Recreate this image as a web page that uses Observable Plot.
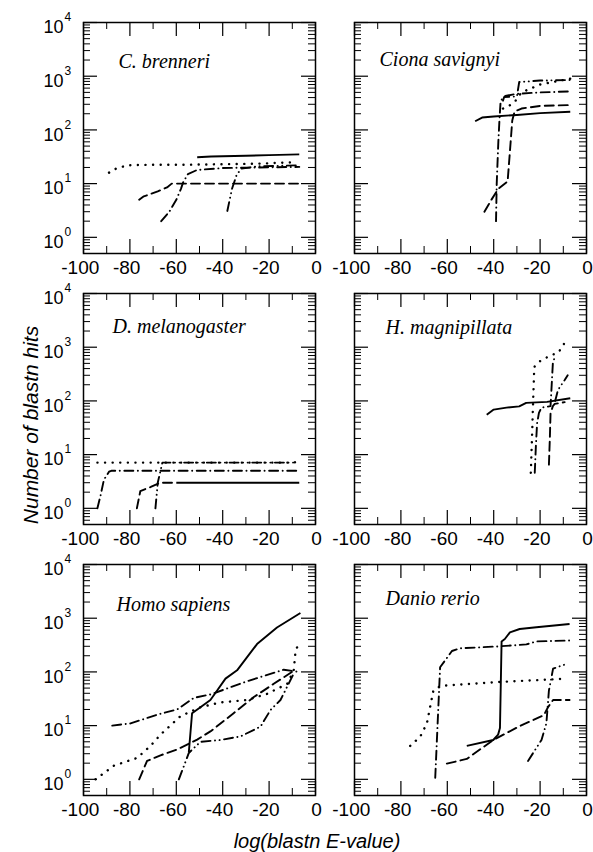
<!DOCTYPE html>
<html><head><meta charset="utf-8">
<script src="https://cdn.jsdelivr.net/npm/d3@7"></script>
<script src="https://cdn.jsdelivr.net/npm/@observablehq/plot@0.6"></script>
<style>
body{margin:0;background:#fff;}
#chart{position:relative;width:593px;height:852px;overflow:hidden;background:#fff;font-family:"Liberation Sans",Arial,sans-serif;}
#chart svg{position:absolute;background:none;overflow:visible;max-width:none;}
.lab{position:absolute;font-family:"Liberation Sans",Arial,sans-serif;font-style:italic;font-size:20px;line-height:20px;white-space:nowrap;color:#000;}
</style></head><body><div id="chart"></div><script>
// ---- tick values / labels ----
const yTicks = [1, 10, 100, 1000, 10000];
const yExp = ["0", "1", "2", "3", "4"];
const xMajor = [-100, -80, -60, -40, -20, 0];
const xMinor = [-90, -70, -50, -30, -10];
const xLabelsNeg = [-100, -80, -60, -40, -20];

// ---- data: [log(E-value), hits] ----
// C. brenneri
const cbSolid = [[-51,31],[-45,32],[-30,33],[-20,34],[-7,35]];
const cbDashed = [[-76,5],[-74,5.8],[-72,6.2],[-68,7.2],[-64,8.5],[-62,10],[-7,10]];
const cbDotted = [[-89,16],[-86,19],[-81,22],[-70,22.5],[-55,22.5],[-40,23],[-25,23.5],[-8,25]];
const cbDashDot = [[-66.5,2],[-63,3],[-60,5],[-58,8],[-57,10.7],[-55,15],[-51,18],[-40,19.5],[-25,20],[-7,20.5]];
const cbDashDotDot = [[-38,3.1],[-37,5],[-36,8],[-34,14.5],[-32,19],[-25,21],[-15,21.5],[-7,22]];
// Ciona savignyi
const csSolid = [[-48,145],[-45,170],[-40,178],[-30,190],[-20,205],[-7,218]];
const csDashed = [[-44,3],[-41,5],[-38,8],[-34,11],[-33,40],[-32,150],[-31,220],[-28,250],[-20,280],[-7,290]];
const csDotted = [[-36,250],[-34,270],[-31,330],[-28,500],[-20,700],[-7,900]];
const csDashDot = [[-39,2],[-38.7,10],[-38,60],[-37.5,160],[-37,350],[-35,430],[-30,470],[-20,500],[-7,520]];
const csDashDotDot = [[-36,350],[-35.5,410],[-30,420],[-29,780],[-20,830],[-7,850]];
// D. melanogaster
const dmSolid = [[-60,3],[-7,3]];
const dmDashed = [[-77,1],[-75.5,2.1],[-71,2.5],[-67,3],[-60,3]];
const dmDotted = [[-94,7.1],[-80,7.1],[-60,7.1],[-30,7.1],[-9,7.1],[-8,8]];
const dmDashDot = [[-94,1],[-92.7,1.7],[-91.2,3.4],[-89,4.8],[-88,5],[-7,5]];
const dmDashDotDot = [[-69,1],[-68,3],[-66,7.1],[-8,7.1]];
// H. magnipillata
const hmSolid = [[-43,55],[-40,69],[-34.5,75],[-29,79],[-26,92],[-17,96],[-7,112]];
const hmDashed = [[-16.2,6.5],[-15.8,20],[-15.5,59],[-14.5,80],[-13.7,88],[-9.4,95]];
const hmDotted = [[-24,4.6],[-23.5,20],[-23,100],[-22.5,430],[-20,550],[-17,650],[-12,810],[-8.7,1350]];
const hmDashDot = [[-22.3,4.6],[-21.8,15],[-21.3,38],[-20.5,60],[-19.4,75],[-17,78],[-15.5,80],[-15,200],[-14.5,500],[-13.5,700]];
const hmDashDotDot = [[-13.5,100],[-12.3,160],[-9.4,245],[-8.1,300]];
// Homo sapiens
const hsSolid = [[-54.6,3.2],[-53.2,17],[-49.6,22],[-45.3,30],[-42.4,45],[-38.8,75],[-33.8,107],[-25.2,330],[-16.6,670],[-6.5,1250]];
const hsDashed = [[-76,1],[-72.6,2.2],[-66.8,2.8],[-59.6,3.6],[-51,5.5],[-45.3,7.8],[-35.3,17],[-26.6,34],[-18,60],[-9.4,105]];
const hsDotted = [[-94.8,1],[-86.9,1.8],[-76.9,2.5],[-71.1,4.2],[-66.8,6.8],[-58.2,15],[-49.6,22],[-41,27],[-29.5,30],[-20.9,39],[-12.2,60],[-9.4,105],[-8.6,245],[-7.2,340]];
const hsDashDot = [[-87.6,10],[-79.7,11],[-68.2,16],[-59.6,20],[-52.4,33],[-45.3,38],[-29.5,67],[-13.7,110],[-7.2,100]];
const hsDashDotDot = [[-58.9,1],[-54.6,3.1],[-49.6,5],[-41,5.4],[-32.3,6.3],[-23.7,9.6],[-19.4,19.5],[-15.1,30],[-9.4,93]];
// Danio rerio
const drSolid = [[-51.6,4.2],[-40.2,5.4],[-38.1,6.8],[-37.3,9],[-36.6,370],[-35.2,410],[-33,545],[-28.8,630],[-21.6,680],[-7.3,780]];
const drDashed = [[-60.2,1.96],[-51.6,2.4],[-40.2,5.4],[-28.8,9.8],[-18.4,15.6],[-16.6,22],[-14.4,30],[-7.3,30]];
const drDotted = [[-76,4.2],[-71.7,6.2],[-68.8,11],[-66,45],[-63.1,54],[-60.2,56],[-37.3,65],[-15.9,72],[-8.7,75]];
const drDashDot = [[-65.2,1.07],[-63.1,122],[-58,245],[-54.5,275],[-37.3,300],[-25.9,325],[-21.6,370],[-7.3,385]];
const drDashDotDot = [[-25.2,2.2],[-19.4,5.4],[-17.3,11],[-16.2,45],[-14.4,115],[-9.4,137]];

// ---- panels ----
const titles = ["C. brenneri", "Ciona savignyi", "D. melanogaster", "H. magnipillata", "Homo sapiens", "Danio rerio"];
const seriesByPanel = [
  [cbSolid, cbDashed, cbDotted, cbDashDot, cbDashDotDot],
  [csSolid, csDashed, csDotted, csDashDot, csDashDotDot],
  [dmSolid, dmDashed, dmDotted, dmDashDot, dmDashDotDot],
  [hmSolid, hmDashed, hmDotted, hmDashDot, hmDashDotDot],
  [hsSolid, hsDashed, hsDotted, hsDashDot, hsDashDotDot],
  [drSolid, drDashed, drDotted, drDashDot, drDashDotDot]
];
const dashes = [null, "9,5", "0.1,7.5", "9,4.5,0.1,4.5", "9,4.5,0.1,4.5,0.1,4.5"];
const titleOffsets = [[35,45],[25,43],[29,39],[31,40],[33,46],[31,40]];

const FW = 232, FH = 231;
const colLeft = [83, 354];
const rowTop = [22, 293, 564];
const mL = 52, mR = 8, mT = 6, mB = 32;

const minorY = [];
for (const k of [0.1, 1, 10, 100, 1000]) for (let m = 2; m <= 9; m++) { const v = m * k; if (v > 0.55 && v < 10000) minorY.push(v); }

const root = document.getElementById("chart");
titles.forEach((title, i) => {
  const col = i % 2, row = Math.floor(i / 2);
  const marks = [
    Plot.tickY(yTicks, {y: d => d, insetRight: FW - 14, strokeWidth: 1.2}),
    Plot.tickY(yTicks, {y: d => d, insetLeft: FW - 14, strokeWidth: 1.2}),
    Plot.tickY(minorY, {y: d => d, insetRight: FW - 7, strokeWidth: 1}),
    Plot.tickY(minorY, {y: d => d, insetLeft: FW - 7, strokeWidth: 1}),
    Plot.tickX(xMajor, {x: d => d, insetBottom: FH - 14, strokeWidth: 1.2}),
    Plot.tickX(xMajor, {x: d => d, insetTop: FH - 14, strokeWidth: 1.2}),
    Plot.tickX(xMinor, {x: d => d, insetBottom: FH - 7, strokeWidth: 1}),
    Plot.tickX(xMinor, {x: d => d, insetTop: FH - 7, strokeWidth: 1}),
    Plot.axisX(xLabelsNeg, {anchor: "bottom", tickSize: 0, tickPadding: 7, fontSize: 19, dx: -3.2, tickFormat: d => "-" + Math.abs(d)}),
    Plot.axisX([0], {anchor: "bottom", tickSize: 0, tickPadding: 7, fontSize: 19, dx: 1, tickFormat: d => "0"}),
    Plot.frame({stroke: "black", strokeWidth: 1.5}),
    Plot.text([title], {frameAnchor: "top-left", text: d => d, dx: titleOffsets[i][0], dy: titleOffsets[i][1], lineAnchor: "bottom", textAnchor: "start", fontFamily: "'Liberation Serif','Times New Roman',serif", fontStyle: "italic", fontSize: 20})
  ];
  if (col === 0) {
    marks.push(Plot.axisY(yTicks, {anchor: "left", tickSize: 0, tickPadding: 20, fontSize: 18, dy: 5, tickFormat: () => "10"}));
    marks.push(Plot.text(yTicks, {y: d => d, text: (d, j) => yExp[j], frameAnchor: "left", dx: -19, dy: -5, textAnchor: "start", fontSize: 12}));
  }
  seriesByPanel[i].forEach((s, j) => {
    marks.push(Plot.line(s, {x: d => d[0], y: d => d[1], stroke: "black", strokeWidth: j === 2 ? 2.4 : 1.9, strokeDasharray: dashes[j], strokeLinecap: j === 0 ? "butt" : "round"}));
  });
  const svg = Plot.plot({
    width: mL + FW + mR, height: mT + FH + mB,
    marginLeft: mL, marginRight: mR, marginTop: mT, marginBottom: mB,
    style: {background: "none", overflow: "visible", fontFamily: "'Liberation Sans',Arial,sans-serif", color: "black"},
    x: {domain: [-100, 0], axis: null},
    y: {type: "log", domain: [0.5, 10000], axis: null},
    marks
  });
  svg.style.left = (colLeft[col] - mL) + "px";
  svg.style.top = (rowTop[row] - mT) + "px";
  root.appendChild(svg);
});

const xl = document.createElement("div");
xl.className = "lab"; xl.textContent = "log(blastn E-value)";
xl.style.left = "217px"; xl.style.width = "200px"; xl.style.textAlign = "center"; xl.style.top = "831px";
root.appendChild(xl);
const yl = document.createElement("div");
yl.className = "lab"; yl.textContent = "Number of blastn hits";
yl.style.fontSize = "21px"; yl.style.lineHeight = "21px";
yl.style.left = "30px"; yl.style.top = "425px"; yl.style.transform = "translate(-50%,-50%) rotate(-90deg)";
root.appendChild(yl);
</script></body></html>
